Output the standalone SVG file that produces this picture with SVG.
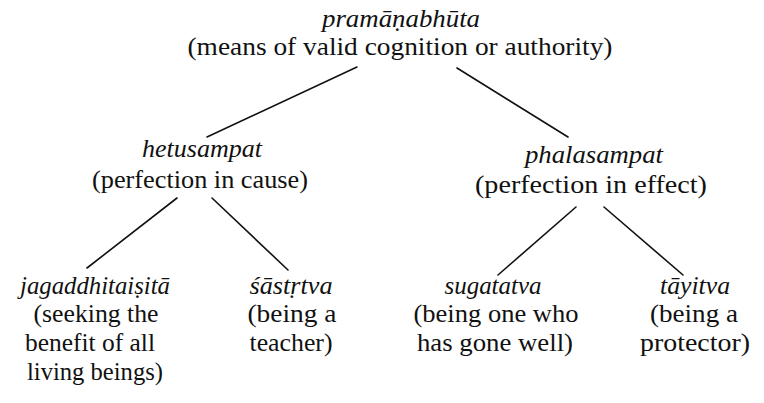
<svg xmlns="http://www.w3.org/2000/svg" width="764" height="403" viewBox="0 0 764 403">
<style>
text{font-family:"Liberation Serif","DejaVu Serif",serif;font-size:25px;fill:#111;text-anchor:middle}
.t{font-style:italic}
.c line{stroke:#111;stroke-width:1.6;stroke-linecap:round}
</style>
<rect width="764" height="403" fill="#fff"/>
<g class="c" id="connectors">
<line x1="357" y1="67" x2="207" y2="137"/>
<line x1="457" y1="68" x2="568" y2="137"/>
<line x1="177" y1="198" x2="87" y2="268"/>
<line x1="212" y1="198" x2="288" y2="270"/>
<line x1="576" y1="207" x2="498" y2="275"/>
<line x1="604" y1="207" x2="683" y2="275"/>
</g>
<g id="root">
<text class="t" x="401" y="27" textLength="158" lengthAdjust="spacingAndGlyphs">pramāṇabhūta</text>
<text x="400" y="55" textLength="425" lengthAdjust="spacingAndGlyphs">(means of valid cognition or authority)</text>
</g>
<g id="hetusampat">
<text class="t" x="202" y="157" textLength="120" lengthAdjust="spacingAndGlyphs">hetusampat</text>
<text x="200" y="188" textLength="216" lengthAdjust="spacingAndGlyphs">(perfection in cause)</text>
</g>
<g id="phalasampat">
<text class="t" x="594" y="163" textLength="138" lengthAdjust="spacingAndGlyphs">phalasampat</text>
<text x="591" y="193" textLength="232" lengthAdjust="spacingAndGlyphs">(perfection in effect)</text>
</g>
<g id="jagaddhitaisita">
<text class="t" x="95" y="294" textLength="150" lengthAdjust="spacingAndGlyphs">jagaddhitaiṣitā</text>
<text x="96" y="322" textLength="125" lengthAdjust="spacingAndGlyphs">(seeking the</text>
<text x="90" y="351" textLength="130" lengthAdjust="spacingAndGlyphs">benefit of all</text>
<text x="95" y="380" textLength="136" lengthAdjust="spacingAndGlyphs">living beings)</text>
</g>
<g id="sastrtva">
<text class="t" x="291" y="294" textLength="83" lengthAdjust="spacingAndGlyphs">śāstṛtva</text>
<text x="292" y="322" textLength="89" lengthAdjust="spacingAndGlyphs">(being a</text>
<text x="291" y="351" textLength="83" lengthAdjust="spacingAndGlyphs">teacher)</text>
</g>
<g id="sugatatva">
<text class="t" x="493" y="294" textLength="97" lengthAdjust="spacingAndGlyphs">sugatatva</text>
<text x="496" y="322" textLength="165" lengthAdjust="spacingAndGlyphs">(being one who</text>
<text x="495" y="351" textLength="156" lengthAdjust="spacingAndGlyphs">has gone well)</text>
</g>
<g id="tayitva">
<text class="t" x="695" y="294" textLength="70" lengthAdjust="spacingAndGlyphs">tāyitva</text>
<text x="694" y="322" textLength="88" lengthAdjust="spacingAndGlyphs">(being a</text>
<text x="695" y="351" textLength="110" lengthAdjust="spacingAndGlyphs">protector)</text>
</g>
</svg>
